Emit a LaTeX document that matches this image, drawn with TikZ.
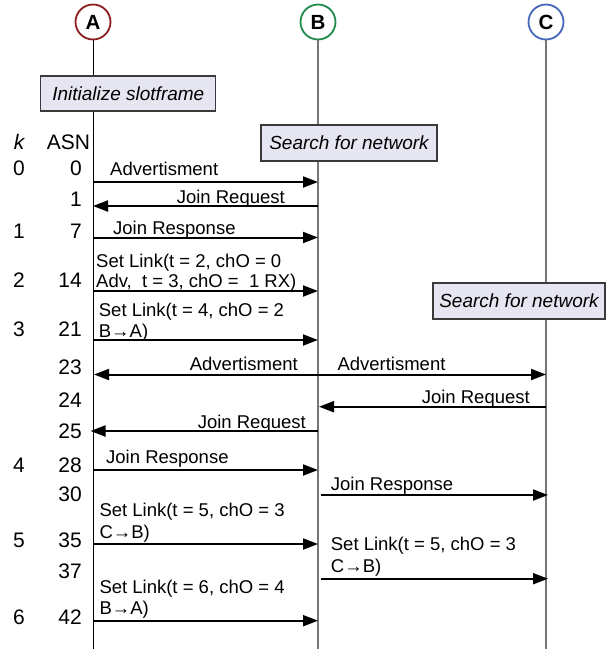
\documentclass[tikz,border=0pt]{standalone}
\usepackage{fontspec}
\setmainfont{Liberation Sans}
\usetikzlibrary{arrows.meta}
\definecolor{boxfill}{HTML}{E6E6F2}
\definecolor{notedraw}{HTML}{3A3A3A}
\definecolor{colA}{HTML}{8B1C1C}
\definecolor{colB}{HTML}{1E8B4B}
\definecolor{colC}{HTML}{4466BB}
\definecolor{lifegray}{HTML}{767676}
\begin{document}
\begin{tikzpicture}[x=1pt,y=-1pt,
  msg/.style={line width=2pt, -{Triangle[length=15pt,width=11pt]}},
  msgboth/.style={line width=2pt, {Triangle[length=15pt,width=11pt]}-{Triangle[length=15pt,width=11pt]}},
  lbl/.style={font=\fontsize{18.5}{21}\selectfont, inner sep=0pt},
  num/.style={font=\fontsize{21}{24}\selectfont, inner sep=0pt, anchor=base east},
  knum/.style={font=\fontsize{21}{24}\selectfont, inner sep=0pt, anchor=base},
  note/.style={draw=notedraw, fill=boxfill, line width=1.2pt, inner sep=0pt, font=\fontsize{19}{22}\selectfont\itshape},
  actor/.style={circle, line width=1.8pt, minimum size=35pt, inner sep=0pt, fill=white, font=\fontsize{20.5}{22}\selectfont\bfseries},
  lifeA/.style={line width=1pt, black},
  lifeBC/.style={line width=1.5pt, lifegray}
]
\useasboundingbox (0,0) rectangle (606,649);

% actors
\node[actor, draw=colA] (A) at (93,22) {A};
\node[actor, draw=colB] (B) at (318,22) {B};
\node[actor, draw=colC] (C) at (546,22) {C};
\coordinate (Aend) at (93,649);
\coordinate (Bend) at (318,649);
\coordinate (Cend) at (546,649);
\draw[lifeA] (A) -- (Aend);
\draw[lifeBC] (B) -- (Bend);
\draw[lifeBC] (C) -- (Cend);

% notes
\node[note, minimum width=175pt, minimum height=35pt] (init) at (128.3,93.5) {Initialize slotframe};
\node[note, minimum width=176pt, minimum height=36pt] (searchB) at (349,143) {Search for network};
\node[note, minimum width=172pt, minimum height=36pt] (searchC) at (519,301) {Search for network};

% headers
\node[knum, font=\fontsize{21}{24}\selectfont\itshape] (khead) at (19,149.5) {k};
\node[knum] (asnhead) at (68.5,149.5) {ASN};

% k column
\node[knum] (k0) at (19,175.5) {0};
\node[knum] (k1) at (19,238.5) {1};
\node[knum] (k2) at (19,287.5) {2};
\node[knum] (k3) at (19,336.5) {3};
\node[knum] (k4) at (19,472.5) {4};
\node[knum] (k5) at (19,547.5) {5};
\node[knum] (k6) at (19,624.5) {6};

% ASN column
\node[num] (s0) at (82,175.5) {0};
\node[num] (s1) at (82,206.5) {1};
\node[num] (s7) at (82,238.5) {7};
\node[num] (s14) at (82,287.5) {14};
\node[num] (s21) at (82,336.5) {21};
\node[num] (s23) at (82,374.5) {23};
\node[num] (s24) at (82,407) {24};
\node[num] (s25) at (82,438) {25};
\node[num] (s28) at (82,472.5) {28};
\node[num] (s30) at (82,501.5) {30};
\node[num] (s35) at (82,547.5) {35};
\node[num] (s37) at (82,578.5) {37};
\node[num] (s42) at (82,624.5) {42};

% messages
\node[lbl, anchor=base west] (l0) at (110,175.5) {Advertisment};
\draw[msg] (A |- 0,182) -- (B |- 0,182);

\node[lbl, anchor=base east] (l1) at (285,203.6) {Join Request};
\draw[msg] (B |- 0,206) -- (A |- 0,206);

\node[lbl, anchor=base west] (l7) at (113,234.6) {Join Response};
\draw[msg] (A |- 0,237.5) -- (B |- 0,237.5);

\node[lbl, anchor=base west] (l14a) at (96,267.6) {Set Link(t = 2, chO = 0};
\node[lbl, anchor=base west] (l14b) at (96,287.8) {Adv,\ \ t = 3, chO = \ 1 RX)};
\draw[msg] (A |- 0,291) -- (B |- 0,291);

\node[lbl, anchor=base west] (l21a) at (98.7,316) {Set Link(t = 4, chO = 2};
\node[lbl, anchor=base west] (l21b) at (98.7,337.3) {B→A)};
\draw[msg] (A |- 0,340) -- (B |- 0,340);

\node[lbl, anchor=base east] (l23a) at (298,370.6) {Advertisment};
\node[lbl, anchor=base west] (l23b) at (337.3,370.6) {Advertisment};
\draw[msgboth] ([xshift=1pt]A |- 0,374.5) -- (C |- 0,374.5);

\node[lbl, anchor=base east] (l24) at (530,403.6) {Join Request};
\draw[msg] (C |- 0,406.7) -- ([xshift=1pt]B |- 0,406.7);

\node[lbl, anchor=base east] (l25) at (306,428.3) {Join Request};
\draw[msg] (B |- 0,431) -- ([xshift=-2.5pt]A |- 0,431);

\node[lbl, anchor=base west] (l28) at (106,463.3) {Join Response};
\draw[msg] (A |- 0,470) -- (B |- 0,470);

\node[lbl, anchor=base west] (l30) at (330.7,490) {Join Response};
\draw[msg] ([xshift=2.5pt]B |- 0,495) -- ([xshift=2pt]C |- 0,495);

\node[lbl, anchor=base west] (l35a) at (99.3,516.6) {Set Link(t = 5, chO = 3};
\node[lbl, anchor=base west] (l35b) at (99.3,538.3) {C→B)};
\draw[msg] (A |- 0,544) -- (B |- 0,544);

\node[lbl, anchor=base west] (l37a) at (330.7,550.6) {Set Link(t = 5, chO = 3};
\node[lbl, anchor=base west] (l37b) at (330.7,572.6) {C→B)};
\draw[msg] ([xshift=2.5pt]B |- 0,578.7) -- ([xshift=2pt]C |- 0,578.7);

\node[lbl, anchor=base west] (l42a) at (99.3,593.3) {Set Link(t = 6, chO = 4};
\node[lbl, anchor=base west] (l42b) at (99.3,614) {B→A)};
\draw[msg] (A |- 0,620.7) -- (B |- 0,620.7);
\end{tikzpicture}
\end{document}
